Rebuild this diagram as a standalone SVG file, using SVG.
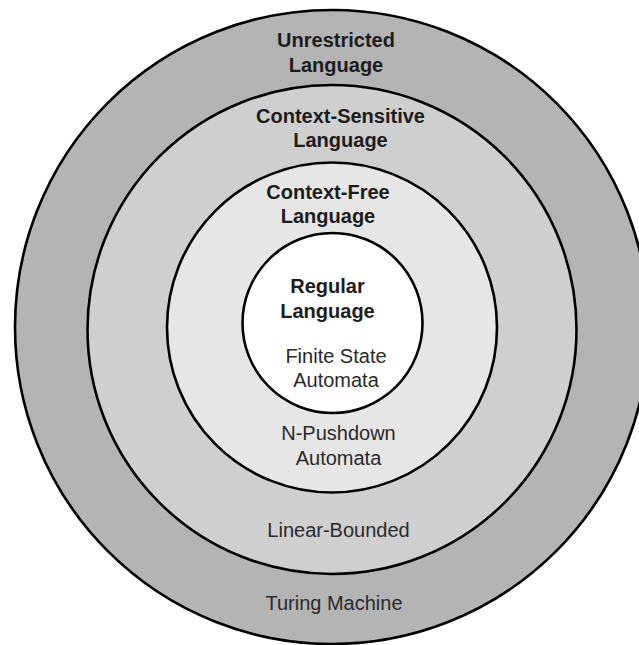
<svg xmlns="http://www.w3.org/2000/svg" width="639" height="645" viewBox="0 0 639 645">
  <style>
    .ring { stroke: #000; stroke-width: 2.6; }
    .lang { font-family: "Liberation Sans", Arial, sans-serif; font-size: 20px; font-weight: bold; fill: #1c1c1c; text-anchor: middle; }
    .auto { font-family: "Liberation Sans", Arial, sans-serif; font-size: 20px; fill: #2a2a2a; text-anchor: middle; }
  </style>
  <rect width="639" height="645" fill="#ffffff"/>

  <!-- Type 0 -->
  <g id="unrestricted">
    <circle class="ring" cx="332" cy="327" r="317" fill="#b4b4b4"/>
    <text class="lang" x="336" y="47">Unrestricted</text>
    <text class="lang" x="336" y="72">Language</text>
    <text class="auto" x="334" y="610">Turing Machine</text>
  </g>

  <!-- Type 1 -->
  <g id="context-sensitive">
    <circle class="ring" cx="332" cy="329.5" r="244.5" fill="#cfcfcf"/>
    <text class="lang" x="340.5" y="122.5">Context-Sensitive</text>
    <text class="lang" x="340.5" y="147">Language</text>
    <text class="auto" x="338.5" y="537">Linear-Bounded</text>
  </g>

  <!-- Type 2 -->
  <g id="context-free">
    <circle class="ring" cx="332" cy="327.5" r="165" fill="#e6e6e6"/>
    <text class="lang" x="328" y="198.5">Context-Free</text>
    <text class="lang" x="328" y="223">Language</text>
    <text class="auto" x="338.5" y="440">N-Pushdown</text>
    <text class="auto" x="338.5" y="464.5">Automata</text>
  </g>

  <!-- Type 3 -->
  <g id="regular">
    <circle class="ring" cx="332.5" cy="323" r="90" fill="#ffffff"/>
    <text class="lang" x="327.5" y="293">Regular</text>
    <text class="lang" x="327.5" y="317.5">Language</text>
    <text class="auto" x="336" y="363">Finite State</text>
    <text class="auto" x="336" y="387">Automata</text>
  </g>

  <g id="connectors"/>
</svg>
